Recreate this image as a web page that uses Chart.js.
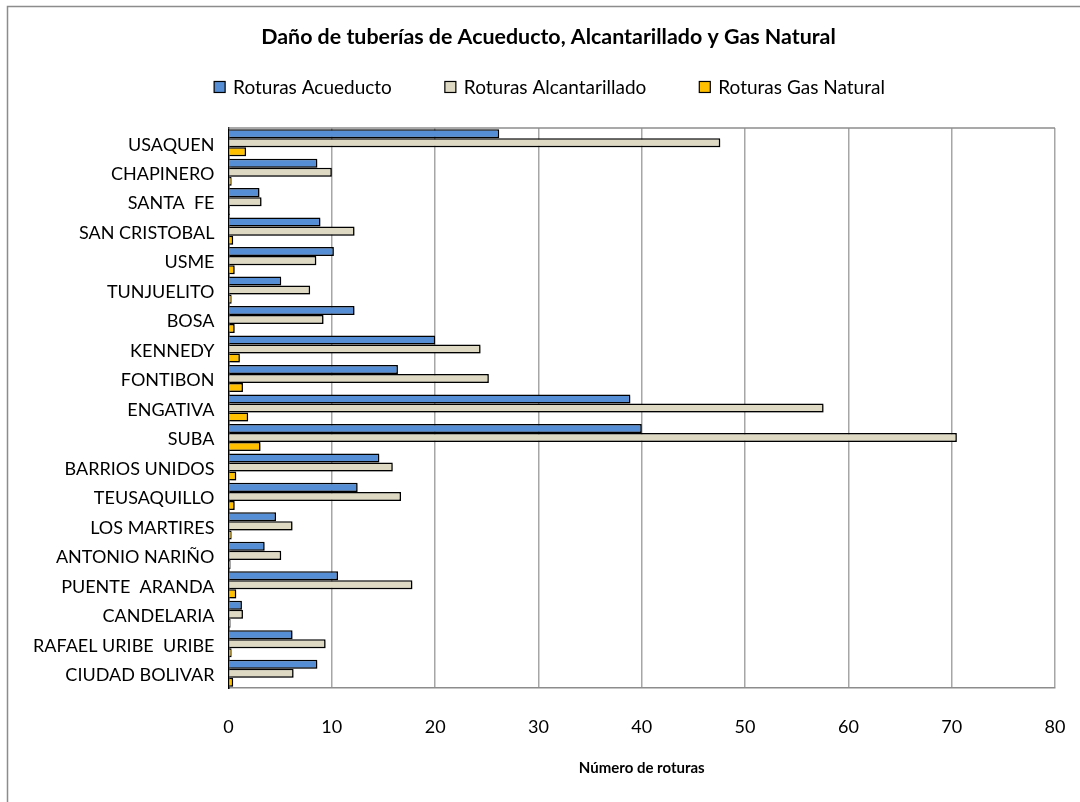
<!DOCTYPE html>
<html>
<head>
<meta charset="utf-8">
<script src="https://cdn.jsdelivr.net/npm/chart.js@4.4.1/dist/chart.umd.min.js"></script>
<style>
  html, body { margin: 0; padding: 0; background: #fff; }
  #wrap { width: 1080px; height: 802px; }
</style>
</head>
<body>
<div id="wrap"><canvas id="chart" width="1080" height="802"></canvas></div>
<script>
// Localidades de Bogotá
const localidades = [
  'USAQUEN', 'CHAPINERO', 'SANTA  FE', 'SAN CRISTOBAL', 'USME', 'TUNJUELITO',
  'BOSA', 'KENNEDY', 'FONTIBON', 'ENGATIVA', 'SUBA', 'BARRIOS UNIDOS',
  'TEUSAQUILLO', 'LOS MARTIRES', 'ANTONIO NARIÑO', 'PUENTE  ARANDA',
  'CANDELARIA', 'RAFAEL URIBE  URIBE', 'CIUDAD BOLIVAR'
];

// Número de roturas por localidad
const roturasAcueducto = [26.2, 8.6, 3.0, 8.9, 10.2, 5.1, 12.2, 20.0, 16.4, 38.9, 40.0, 14.6, 12.5, 4.6, 3.5, 10.6, 1.3, 6.2, 8.6];
const roturasAlcantarillado = [47.6, 10.0, 3.2, 12.2, 8.5, 7.9, 9.2, 24.4, 25.2, 57.6, 70.5, 15.9, 16.7, 6.2, 5.1, 17.8, 1.4, 9.4, 6.3];
const roturasGas = [1.7, 0.3, 0.15, 0.45, 0.6, 0.3, 0.6, 1.1, 1.4, 1.9, 3.1, 0.75, 0.6, 0.3, 0.2, 0.75, 0.2, 0.3, 0.45];

const xTicks = [0, 10, 20, 30, 40, 50, 60, 70, 80];

const FONT = 'Lato, "Open Sans", sans-serif';

// White page with the outer chart frame
const framePlugin = {
  id: 'frame',
  afterLayout(chart) {
    // let long category names run into the left margin instead of being clipped
    chart.scales.y.left = 8;
  },
  beforeDraw(chart) {
    const ctx = chart.ctx;
    ctx.save();
    ctx.fillStyle = '#fff';
    ctx.fillRect(0, 0, chart.width, chart.height);
    ctx.strokeStyle = '#8c8c8c';
    ctx.lineWidth = 1.5;
    ctx.beginPath();
    ctx.moveTo(7.5, chart.height + 2);
    ctx.lineTo(7.5, 6.5);
    ctx.lineTo(chart.width + 2, 6.5);
    ctx.stroke();
    ctx.restore();
  },
  beforeDatasetsDraw(chart) {
    // plot area outline (top edge)
    const {ctx, chartArea: a} = chart;
    ctx.save();
    ctx.strokeStyle = '#8c8c8c';
    ctx.lineWidth = 1.5;
    ctx.beginPath();
    ctx.moveTo(a.left, a.top);
    ctx.lineTo(a.right, a.top);
    ctx.stroke();
    ctx.restore();
  }
};

// Soft drop shadow under the bars
const shadowPlugin = {
  id: 'barShadow',
  beforeDatasetsDraw(chart) {
    const ctx = chart.ctx;
    ctx.save();
    ctx.shadowColor = 'rgba(0,0,0,0.28)';
    ctx.shadowBlur = 2;
    ctx.shadowOffsetX = 1.5;
    ctx.shadowOffsetY = 1.5;
  },
  afterDatasetsDraw(chart) {
    chart.ctx.restore();
  }
};

// Series legend in a single row under the title
const legendRowPlugin = {
  id: 'legendRow',
  afterDraw(chart) {
    const ctx = chart.ctx;
    const sets = chart.data.datasets;
    const box = 11, gapText = 8, gapItem = 53;
    ctx.save();
    ctx.font = '19px ' + FONT;
    const widths = sets.map(ds => box + gapText + ctx.measureText(ds.label).width);
    const total = widths.reduce((s, w) => s + w, 0) + gapItem * (sets.length - 1);
    const tb = chart.titleBlock;
    const cx = (tb.left + tb.right) / 2 + 1;
    const cy = chart.chartArea.top - 41;
    let x = cx - total / 2;
    sets.forEach((ds, i) => {
      ctx.fillStyle = ds.backgroundColor;
      ctx.fillRect(x, cy - box / 2, box, box);
      ctx.strokeStyle = '#000';
      ctx.lineWidth = 1.2;
      ctx.strokeRect(x, cy - box / 2, box, box);
      ctx.fillStyle = '#000';
      ctx.textBaseline = 'middle';
      ctx.textAlign = 'left';
      ctx.fillText(ds.label, x + box + gapText, cy + 1);
      x += widths[i] + gapItem;
    });
    ctx.restore();
  }
};

const barStyle = {
  borderColor: '#000',
  borderWidth: 1.5,
  borderSkipped: 'start',
  barPercentage: 1.0,
  categoryPercentage: 0.92
};

new Chart(document.getElementById('chart'), {
  type: 'bar',
  data: {
    labels: localidades,
    datasets: [
      Object.assign({ label: 'Roturas Acueducto', data: roturasAcueducto, backgroundColor: '#558ed5' }, barStyle),
      Object.assign({ label: 'Roturas Alcantarillado', data: roturasAlcantarillado, backgroundColor: '#ddd9c3' }, barStyle),
      Object.assign({ label: 'Roturas Gas Natural', data: roturasGas, backgroundColor: '#ffc000' }, barStyle)
    ]
  },
  options: {
    indexAxis: 'y',
    responsive: false,
    animation: false,
    devicePixelRatio: 1,
    layout: { padding: { left: 42, right: 25, top: 0, bottom: 0 } },
    plugins: {
      legend: { display: false },
      tooltip: { enabled: false },
      title: {
        display: true,
        text: 'Daño de tuberías de Acueducto, Alcantarillado y Gas Natural',
        color: '#000',
        font: { family: FONT, size: 21.4, weight: 'bold' },
        padding: { top: 24.2, bottom: 78.1 }
      }
    },
    scales: {
      x: {
        type: 'linear',
        min: xTicks[0],
        max: xTicks[xTicks.length - 1],
        afterBuildTicks(scale) { scale.ticks = xTicks.map(v => ({ value: v })); },
        afterFit(scale) { scale.height = 114; },
        grid: {
          color: ctx => (ctx.tick && ctx.tick.value === 0 ? 'rgba(0,0,0,0)' : '#a6a6a6'),
          lineWidth: 1.5,
          drawTicks: true,
          tickLength: 26,
          tickColor: 'rgba(0,0,0,0)'
        },
        border: { display: true, color: '#8c8c8c', width: 1.5 },
        ticks: { color: '#000', font: { family: FONT, size: 18 }, padding: 2 },
        title: {
          display: true,
          text: 'Número de roturas',
          color: '#000',
          font: { family: FONT, size: 15, weight: 'bold' },
          padding: { top: 0, bottom: 25 }
        }
      },
      y: {
        afterFit(scale) { scale.width = 186.5; },
        grid: { display: false, drawTicks: false },
        border: { display: true, color: '#000', width: 1.5 },
        ticks: { color: '#000', font: { family: FONT, size: 18 }, padding: 14, labelOffset: 2, autoSkip: false }
      }
    }
  },
  plugins: [framePlugin, shadowPlugin, legendRowPlugin]
});
</script>
</body>
</html>
